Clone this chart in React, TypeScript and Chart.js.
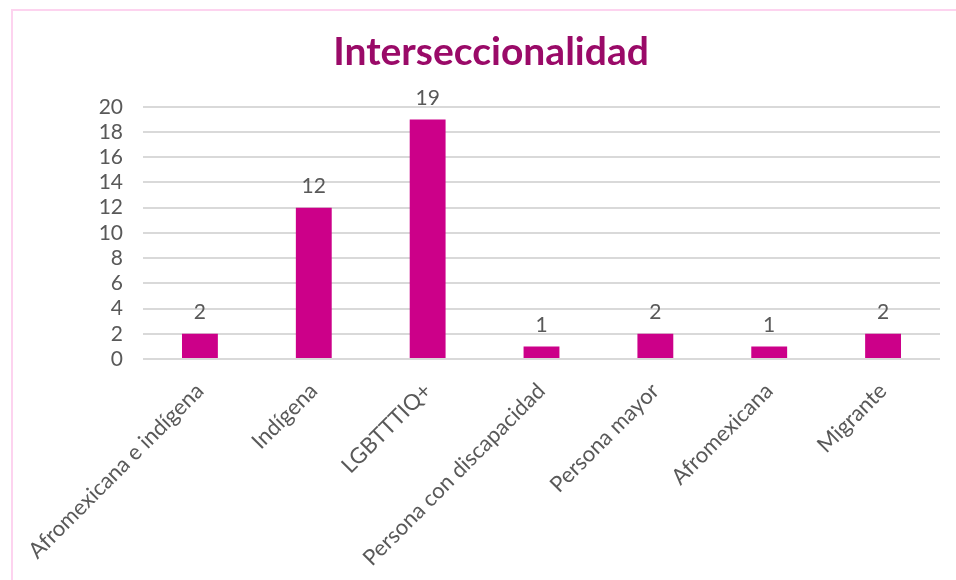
import React, { useEffect, useRef } from "react";
import { Chart, registerables } from "chart.js";

Chart.register(...registerables);

const categories = [
  "Afromexicana e indígena",
  "Indígena",
  "LGBTTTIQ+",
  "Persona con discapacidad",
  "Persona mayor",
  "Afromexicana",
  "Migrante",
];
const values = [2, 12, 19, 1, 2, 1, 2];
const titleText = "Interseccionalidad";

const FONT = "Lato, 'Open Sans', sans-serif";
const TEXT = "#595959";

const valueLabels = {
  id: "valueLabels",
  afterDatasetsDraw(chart: any) {
    const ctx = chart.ctx;
    const meta = chart.getDatasetMeta(0);
    ctx.save();
    ctx.font = `21px ${FONT}`;
    ctx.fillStyle = TEXT;
    ctx.textAlign = "center";
    ctx.textBaseline = "bottom";
    meta.data.forEach((bar: any, i: number) => {
      ctx.fillText(String(chart.data.datasets[0].data[i]), bar.x, bar.y - 11);
    });
    ctx.restore();
  },
};

export default function App() {
  const ref = useRef<HTMLCanvasElement | null>(null);
  useEffect(() => {
    if (!ref.current) return;
    const chart = new Chart(ref.current, {
      type: "bar",
      data: {
        labels: categories,
        datasets: [
          {
            data: values,
            backgroundColor: "#CC0089",
            barPercentage: 0.9,
            categoryPercentage: 0.35,
          },
        ],
      },
      options: {
        animation: false,
        responsive: false,
        maintainAspectRatio: false,
        layout: { padding: { left: 42, right: 16, top: 0, bottom: 0 } },
        plugins: {
          legend: { display: false },
          tooltip: { enabled: false },
          title: {
            display: true,
            text: titleText,
            color: "#9A0A68",
            font: { family: FONT, size: 39, weight: "bold" },
            padding: { top: 29, bottom: 31 },
          },
        },
        scales: {
          x: {
            grid: { display: false },
            border: { display: false },
            ticks: {
              color: TEXT,
              font: { family: FONT, size: 22 },
              maxRotation: 45,
              minRotation: 45,
              padding: 11,
              autoSkip: false,
            },
            afterFit(scale: any) {
              scale.height = 221;
            },
          },
          y: {
            min: 0,
            max: 20,
            grid: { color: "#D9D9D9", lineWidth: 2, drawTicks: false },
            border: { display: false },
            ticks: {
              stepSize: 2,
              autoSkip: false,
              color: TEXT,
              font: { family: FONT, size: 21 },
              padding: 20,
            },
            afterFit(scale: any) {
              scale.width = 101;
            },
          },
        },
      },
      plugins: [valueLabels],
    });
    return () => chart.destroy();
  }, []);
  return (
    <div
      style={{
        position: "absolute",
        left: 0,
        top: 0,
        width: 956,
        height: 580,
        overflow: "hidden",
        background: "#fff",
      }}
    >
      <div
        style={{
          position: "absolute",
          left: 11,
          top: 9,
          width: 1000,
          height: 1000,
          border: "2px solid #FDD3EF",
        }}
      />
      <canvas
        ref={ref}
        width={956}
        height={580}
        style={{ position: "absolute", left: 0, top: 0 }}
      />
    </div>
  );
}
